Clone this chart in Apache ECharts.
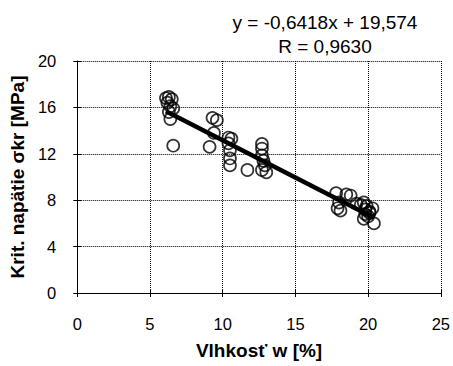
<!DOCTYPE html>
<html><head><meta charset="utf-8">
<script src="https://cdn.jsdelivr.net/npm/echarts@6/dist/echarts.min.js"></script>
<style>html,body{margin:0;padding:0;background:#fff}#c{width:453px;height:366px}</style>
</head><body><div id="c"></div>
<script>
const moisture = [6.1,6.3,6.5,6.2,6.4,6.6,6.3,6.4,6.6,
  9.3,9.6,9.4,9.1,10.4,10.6,10.4,10.5,10.5,10.5,11.7,
  12.7,12.7,12.7,12.8,12.9,12.7,13.0,
  17.8,18.5,18.0,17.9,18.1,18.8,19.2,19.5,19.7,19.8,19.8,19.7,20.0,20.1,20.3,20.4,19.9,20.1];
const stress = [16.8,16.9,16.7,16.4,16.1,15.9,15.6,15.0,12.7,
  15.1,14.9,13.8,12.6,13.4,13.3,12.9,12.3,11.6,11.0,10.6,
  12.85,12.45,11.85,11.4,11.0,10.6,10.4,
  8.6,8.5,7.8,7.3,7.1,8.4,7.7,7.6,7.8,7.2,6.8,6.4,6.6,7.0,7.3,6.0,7.5,6.9];
const fitSlope = [-0.6418];
const fitIntercept = [19.574];
const xTicks = [0,5,10,15,20,25];
const yTicks = [0,4,8,12,16,20];
const eqText = 'y = -0,6418x + 19,574';
const rText = 'R = 0,9630';

const pts = moisture.map((x,i)=>[x,stress[i]]);
const xmin = Math.min(...moisture), xmax = Math.max(...moisture);
const fit = [[xmin, fitSlope[0]*xmin+fitIntercept[0]],[xmax, fitSlope[0]*xmax+fitIntercept[0]]];

const F = 'Liberation Sans, Arial, sans-serif';
const chart = echarts.init(document.getElementById('c'), null, {renderer:'svg'});
const baseX = {type:'value', min:0, max:25, interval:5, position:'bottom'};
const baseY = {type:'value', min:0, max:20, interval:4, position:'left'};
chart.setOption({
  animation:false,
  backgroundColor:'#fff',
  title:[
    {text:eqText, left:320, top:8, textAlign:'center', textStyle:{fontFamily:F,fontSize:19,fontWeight:'normal',color:'#000'}},
    {text:rText, left:320, top:32, textAlign:'center', textStyle:{fontFamily:F,fontSize:19,fontWeight:'normal',color:'#000'}}
  ],
  grid:{left:74, right:12, top:61, bottom:73, containLabel:false},
  xAxis:[
    Object.assign({}, baseX, {
      name:'Vlhkosť w [%]', nameLocation:'middle', nameGap:48,
      nameTextStyle:{fontFamily:F,fontSize:19,fontWeight:'bold',color:'#000'},
      axisLine:{show:true,onZero:false,lineStyle:{color:'#000',width:1}},
      axisTick:{show:true,length:4,lineStyle:{color:'#000'}},
      axisLabel:{fontFamily:F,fontSize:16.5,color:'#000',margin:22,formatter:v=>xTicks.includes(v)?String(v):''},
      splitLine:{show:true,lineStyle:{color:'#000',type:[1,1],width:1}}
    }),
    Object.assign({}, baseX, {
      axisLine:{show:false}, axisTick:{show:true,inside:true,length:4,lineStyle:{color:'#000'}},
      axisLabel:{show:false}, splitLine:{show:false}
    })
  ],
  yAxis:[
    Object.assign({}, baseY, {
      name:'Krit. napätie σkr [MPa]', nameLocation:'middle', nameGap:46,
      nameTextStyle:{fontFamily:F,fontSize:19,fontWeight:'bold',color:'#000'},
      axisLine:{show:true,onZero:false,lineStyle:{color:'#000',width:1}},
      axisTick:{show:true,length:4,lineStyle:{color:'#000'}},
      axisLabel:{fontFamily:F,fontSize:16.5,color:'#000',margin:21,formatter:v=>yTicks.includes(v)?String(v):''},
      splitLine:{show:true,lineStyle:{color:'#000',type:[1,1],width:1}}
    }),
    Object.assign({}, baseY, {
      axisLine:{show:false}, axisTick:{show:true,inside:true,length:4,lineStyle:{color:'#000'}},
      axisLabel:{show:false}, splitLine:{show:false}
    })
  ],
  series:[
    {type:'scatter', data:pts, symbol:'circle', symbolSize:12,
     itemStyle:{color:'rgba(0,0,0,0)', borderColor:'#000', borderWidth:1.7}, z:2},
    {type:'line', data:fit, showSymbol:false, symbol:'none',
     lineStyle:{color:'#000', width:4.5}, z:3}
  ]
});
</script></body></html>
